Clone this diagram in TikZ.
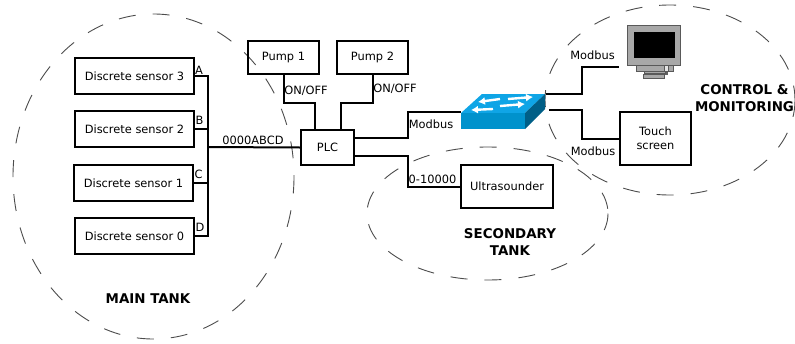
\documentclass[tikz,border=0pt]{standalone}
\usepackage{fontspec}
\setmainfont{DejaVu Sans}
\usepackage{xcolor}
\usepackage{tikz}
\definecolor{swtop}{HTML}{0FA5E6}
\definecolor{swfront}{HTML}{0092CC}
\definecolor{swside}{HTML}{005F87}
\definecolor{scrgrey}{HTML}{A8A8A8}
\tikzset{
  box/.style={draw,line width=2pt,align=center,font=\fontsize{11.4}{14}\selectfont,inner sep=0pt},
  sensor/.style={box,minimum width=119pt,minimum height=36pt},
  pump/.style={box,minimum width=71pt,minimum height=33pt},
  wire/.style={line width=2pt},
  tank/.style={draw=black!70,line width=.9pt,dash pattern=on 17pt off 17pt},
  tag/.style={inner sep=0pt,font=\fontsize{11.4}{14}\selectfont},
  title/.style={inner sep=0pt,align=center,font=\fontsize{13.4}{17}\selectfont\bfseries},
  swarrow/.style={white,line width=2.4pt,-{Latex[length=7pt,width=8pt]}}
}
\usetikzlibrary{arrows.meta}
\begin{document}
\begin{tikzpicture}[x=1pt,y=-1pt]
\useasboundingbox (0,0) rectangle (795,343);
% tanks
\draw[tank] (153.5,176.5) ellipse (140.5 and 162.5);
\draw[tank] (487.5,213.5) ellipse (120.5 and 66.5);
\draw[tank] (670,100) ellipse (125 and 95);
% sensors
\node[sensor] (sensor3) at (134.5,76) {Discrete sensor 3};
\node[sensor] (sensor2) at (134.5,129) {Discrete sensor 2};
\node[sensor] (sensor1) at (133.5,183) {Discrete sensor 1};
\node[sensor] (sensor0) at (134.5,236) {Discrete sensor 0};
\node[pump] (pump1) at (283.5,57.5) {Pump 1};
\node[pump] (pump2) at (372.5,57.5) {Pump 2};
\node[box,minimum width=53pt,minimum height=35pt] (plc) at (327.5,147.5) {PLC};
\node[box,minimum width=92pt,minimum height=43pt] (ultra) at (507,186.5) {Ultrasounder};
\node[box,minimum width=71pt,minimum height=53pt] (touch) at (655.5,138.5) {Touch\\screen};
% switch
\fill[swtop] (461,113) -- (482,94) -- (545,94) -- (525,113) -- cycle;
\fill[swfront] (461,113) rectangle (525,129);
\fill[swside] (525,113) -- (545,94) -- (545,109) -- (525,129) -- cycle;
\draw[swarrow] (500,99) -- (478,102);
\draw[swarrow] (508,99) -- (533,97);
\draw[swarrow] (493,109) -- (471,110);
\draw[swarrow] (500,106) -- (525,104);
\coordinate (swin) at (461,112);
\coordinate (swout1) at (546,94);
\coordinate (swout2) at (549,110);
% monitor
\fill[gray!75!black] (649,67) rectangle (668,75);
\fill[scrgrey,draw=gray!70!black,line width=.8pt] (636,65) rectangle (673,71.5);
\fill[scrgrey,draw=gray!70!black,line width=.8pt] (644,71.5) rectangle (665,73);
\fill[scrgrey,draw=gray!70!black,line width=.8pt] (643.5,74) rectangle (664.5,78);
\fill[scrgrey,draw=gray!70!black,line width=1pt] (627.5,25.5) rectangle (680.5,65);
\fill[black] (633.5,31.5) rectangle (675,58);
\fill[white!80!gray,draw=gray!70!black,line width=.6pt] (664,65) rectangle (668.5,71);
\coordinate (monitor) at (619,67);
% connectors
\coordinate (bus) at (208,147);
\draw[wire] (sensor3.east) -| (bus);
\draw[wire] (sensor2.east) -| (bus);
\draw[wire] (sensor1.east) -| (bus);
\draw[wire] (sensor0.east) -| (bus);
\draw[wire] (bus) -- (plc.west);
\coordinate (plcin1) at (315,130);
\coordinate (plcin2) at (341,130);
\coordinate (plcout1) at (354,138);
\coordinate (plcout2) at (354,156);
\draw[wire] (pump1.south) -- ++(0,28) -| (plcin1);
\draw[wire] (pump2.south) -- ++(0,28) -| (plcin2);
\draw[wire] (plcout1) -- ++(54,0) |- (swin);
\draw[wire] (plcout2) -- ++(54,0) |- (ultra.west);
\draw[wire] (swout1) -- ++(36,0) |- (monitor);
\draw[wire] (swout2) -- ++(33,0) |- (touch.west);
% labels
\node[tag] (taga) at (199,70) {A};
\node[tag] (tagb) at (199.5,120) {B};
\node[tag] (tagc) at (198.5,174) {C};
\node[tag] (tagd) at (200,227) {D};
\node[tag] (tagbus) at (253,140) {0000ABCD};
\node[tag] (tagon1) at (306,90.5) {ON/OFF};
\node[tag] (tagon2) at (395,89) {ON/OFF};
\node[tag] (tagmod1) at (431,124) {Modbus};
\node[tag] (tagana) at (432.5,179) {0-10000};
\node[tag] (tagmod2) at (592.5,55) {Modbus};
\node[tag] (tagmod3) at (593,151.5) {Modbus};
\node[title] (main) at (148,298.5) {MAIN TANK};
\node[title] (second) at (510,242.5) {SECONDARY\\TANK};
\node[title] (control) at (744.5,98) {CONTROL \&\\MONITORING};
\end{tikzpicture}
\end{document}
